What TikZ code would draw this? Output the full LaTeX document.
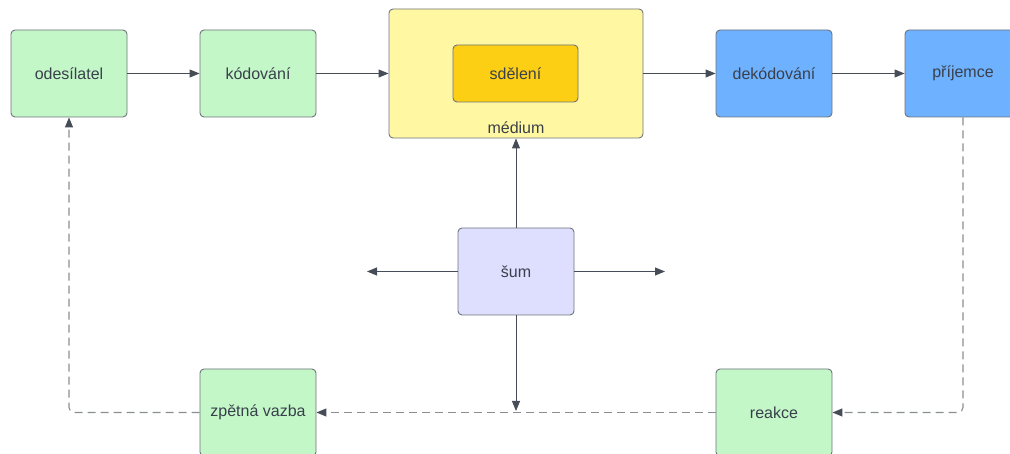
\documentclass[tikz,border=0pt]{standalone}
\usepackage{fontspec}
\setmainfont{Liberation Sans}
\usetikzlibrary{arrows.meta}
\definecolor{txt}{HTML}{3A404B}
\definecolor{bord}{HTML}{6F747C}
\definecolor{lgreen}{HTML}{C3F7C8}
\definecolor{lyellow}{HTML}{FFF7A1}
\definecolor{dyellow}{HTML}{FCCE14}
\definecolor{lblue}{HTML}{6DB1FF}
\definecolor{lviolet}{HTML}{DEDEFF}
\definecolor{solidln}{HTML}{474D57}
\definecolor{dashln}{HTML}{8A8D92}
\begin{document}
\begin{tikzpicture}[x=1pt,y=-1pt,
  box/.style={draw=bord,line width=0.9pt,rounded corners=4pt,minimum width=116pt,minimum height=87pt,inner sep=0pt,text=txt,font=\fontsize{16}{18}\selectfont},
  conn/.style={draw=solidln,line width=0.9pt,-{Triangle[length=10pt,width=8pt]}},
  dconn/.style={draw=dashln,line width=1.1pt,dash pattern=on 8pt off 5pt,rounded corners=5pt,-{Triangle[length=10pt,width=8pt,color=solidln,fill=solidln]}}]
\useasboundingbox (0,0) rectangle (1010,454);
\begin{scope}
\clip (0,0) rectangle (1010,454);
\node[box,fill=lgreen] (odes) at (69,73.5) {odesílatel};
\node[box,fill=lgreen] (kod) at (258,73.5) {kódování};
\node[box,fill=lyellow,minimum width=254pt,minimum height=129pt] (med) at (516,73.5) {};
\node[box,fill=dyellow,minimum width=125pt,minimum height=57pt] (sdel) at (515.5,73.5) {sdělení};
\node[text=txt,font=\fontsize{16}{18}\selectfont] (medlab) at (516,128) {médium};
\node[box,fill=lblue] (dek) at (774,73.5) {dekódování};
\node[box,fill=lblue] (prij) at (963,73.5) {příjemce};
\node[box,fill=lviolet] (sum) at (516,271.5) {šum};
\node[box,fill=lgreen] (zpet) at (258,412.5) {zpětná vazba};
\node[box,fill=lgreen] (reak) at (774,412.5) {reakce};
\coordinate (sL) at (367,271.5);
\coordinate (sR) at (665,271.5);
\coordinate (sB) at (516,411);
\coordinate (pc) at (963,412.5);
\coordinate (oc) at (69,412.5);

\draw[conn] (odes.east) -- (kod.west);
\draw[conn] (kod.east) -- (med.west |- kod.east);
\draw[conn] (med.east |- dek.west) -- (dek.west);
\draw[conn] (dek.east) -- (prij.west);
\draw[conn] (sum.north) -- (med.south);
\draw[conn] (sum.west) -- (sL);
\draw[conn] (sum.east) -- (sR);
\draw[conn] (sum.south) -- (sB);
\draw[dconn] (prij.south) -- (pc) -- (reak.east);
\draw[dconn] (reak.west) -- (zpet.east);
\draw[dconn] (zpet.west) -- (oc) -- (odes.south);
\end{scope}
\end{tikzpicture}
\end{document}
